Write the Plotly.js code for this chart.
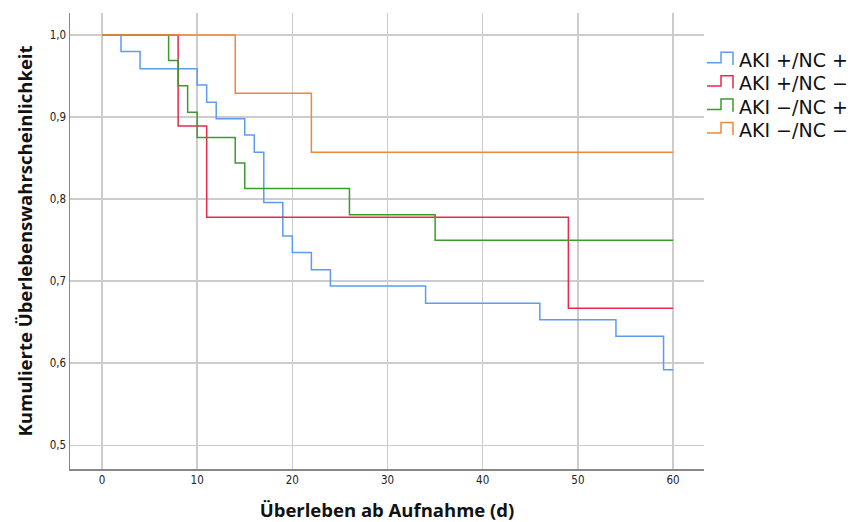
<!DOCTYPE html>
<html>
<head>
<meta charset="utf-8">
<script src="https://cdn.plot.ly/plotly-3.0.1.min.js"></script>
<style>html,body{margin:0;padding:0;background:#fff;}#chart{width:858px;height:522px;}</style>
</head>
<body>
<div id="chart"></div>
<script>
// Kaplan-Meier step data
const seriesNames = ["AKI +/NC +", "AKI +/NC \u2212", "AKI \u2212/NC +", "AKI \u2212/NC \u2212"];
const timeAkiPosNcPos = [0, 2, 4, 10, 11, 12, 15, 16, 17, 19, 20, 22, 24, 34, 46, 54, 59, 60];
const survAkiPosNcPos = [1, 0.98, 0.959, 0.939, 0.918, 0.898, 0.878, 0.857, 0.796, 0.755, 0.735, 0.714, 0.694, 0.673, 0.653, 0.633, 0.592, 0.592];
const timeAkiPosNcNeg = [0, 8, 11, 49, 60];
const survAkiPosNcNeg = [1, 0.889, 0.778, 0.667, 0.667];
const timeAkiNegNcPos = [0, 7, 8, 9, 10, 14, 15, 26, 35, 60];
const survAkiNegNcPos = [1, 0.969, 0.938, 0.906, 0.875, 0.844, 0.813, 0.781, 0.75, 0.75];
const timeAkiNegNcNeg = [0, 14, 22, 60];
const survAkiNegNcNeg = [1, 0.929, 0.857, 0.857];
const xTicks = [0, 10, 20, 30, 40, 50, 60];
const yTicks = [0.5, 0.6, 0.7, 0.8, 0.9, 1.0];

const colors = ["#5b9cf0", "#e8284d", "#3d9a2e", "#f0883c"];
const xs = [timeAkiPosNcPos, timeAkiPosNcNeg, timeAkiNegNcPos, timeAkiNegNcNeg];
const ys = [survAkiPosNcPos, survAkiPosNcNeg, survAkiNegNcPos, survAkiNegNcNeg];

const traces = seriesNames.map((n, i) => ({
  type: 'scatter', mode: 'lines', name: n,
  x: xs[i], y: ys[i],
  line: {shape: 'hv', color: colors[i], width: 1.5},
  hoverinfo: 'x+y+name'
}));

// plot area geometry (pixels) used for the custom step-icon legend
const W = 858, H = 522;
const M = {l: 70, r: 154, t: 13, b: 53, autoexpand: false};
const pw = W - M.l - M.r, ph = H - M.t - M.b;
const px = v => (v - M.l) / pw;          // container px -> paper x
const py = v => (H - M.b - v) / ph;      // container px -> paper y

const annotations = [];
const shapes = [];
seriesNames.forEach((n, i) => {
  const cy = 60 + i * 23.4;
  annotations.push({
    xref: 'paper', yref: 'paper', x: px(737), y: py(cy),
    xanchor: 'left', yanchor: 'middle', showarrow: false,
    text: n, font: {family: 'DejaVu Sans, sans-serif', size: 19, color: '#111'}
  });
  const x0 = px(707), x1 = px(721), x2 = px(733);
  const yl = py(cy + 2.7), yt = py(cy - 7.7);
  shapes.push({
    type: 'path', xref: 'paper', yref: 'paper',
    path: `M ${x0} ${yl} L ${x1} ${yl} L ${x1} ${yt} L ${x2} ${yt} L ${x2} ${py(cy + 5)}`,
    line: {color: colors[i], width: 1.5}
  });
});

const tickFont = {family: 'DejaVu Sans Condensed, DejaVu Sans, sans-serif', size: 11.5, color: '#222'};
const titleFont = {family: 'Open Sans, sans-serif', size: 18.5, color: '#111', weight: 'bold'};

const layout = {
  width: W, height: H,
  margin: M,
  paper_bgcolor: '#fff', plot_bgcolor: '#fff',
  separators: ',.',
  showlegend: false,
  annotations: annotations,
  shapes: shapes,
  xaxis: {
    range: [-3.36, 63.25], tickvals: xTicks, ticktext: xTicks.map(String),
    showgrid: true, gridcolor: '#cccccc', gridwidth: 1.5,
    showline: true, linecolor: '#888', linewidth: 1.5,
    zeroline: false, ticks: '', tickfont: tickFont,
    title: {text: '\u00dcberleben ab Aufnahme (d)', font: titleFont, standoff: 19},
    automargin: false
  },
  yaxis: {
    range: [0.4711, 1.0268], tickvals: yTicks, tickformat: '.1f',
    showgrid: true, gridcolor: '#cccccc', gridwidth: 1.5,
    showline: true, linecolor: '#888', linewidth: 1.5,
    zeroline: false, ticks: '', tickfont: tickFont,
    title: {text: 'Kumulierte \u00dcberlebenswahrscheinlichkeit', font: titleFont, standoff: 12},
    automargin: false
  }
};

Plotly.newPlot('chart', traces, layout, {displayModeBar: false, staticPlot: true});
</script>
</body>
</html>
